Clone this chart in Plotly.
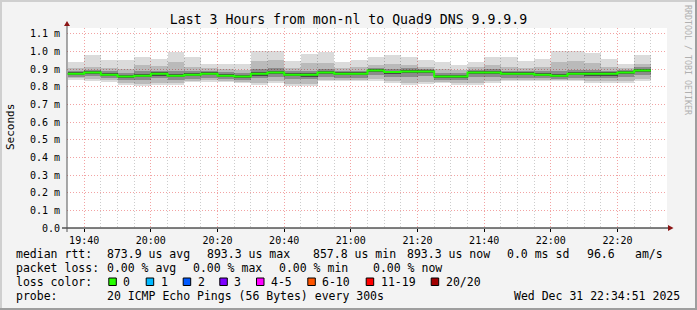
import pandas as pd
import plotly.graph_objects as go

# ---------------- data (values in milliseconds) ----------------
title = "Last 3 Hours from mon-nl to Quad9 DNS 9.9.9.9"
bar_starts = pd.date_range("2025-12-31 19:35:00", periods=35, freq="5min")

median = [0.874, 0.882, 0.869, 0.858, 0.863, 0.874, 0.863, 0.869, 0.874, 0.863,
          0.858, 0.874, 0.882, 0.869, 0.869, 0.882, 0.874, 0.874, 0.893, 0.884,
          0.887, 0.887, 0.859, 0.859, 0.882, 0.882, 0.874, 0.874, 0.869, 0.863,
          0.874, 0.874, 0.874, 0.882, 0.893]
ping_max = [0.942, 0.978, 0.954, 0.950, 0.972, 0.959, 0.997, 0.967, 0.931, 0.929,
            0.929, 1.001, 1.006, 0.948, 0.989, 0.997, 0.942, 0.954, 0.967, 0.978,
            0.972, 0.954, 0.938, 0.925, 0.938, 0.967, 0.967, 0.948, 0.959, 1.001,
            1.006, 0.991, 0.959, 0.931, 0.978]
ping_min = [0.840, 0.835, 0.827, 0.812, 0.806, 0.812, 0.812, 0.825, 0.827, 0.825,
            0.822, 0.812, 0.822, 0.806, 0.806, 0.831, 0.831, 0.831, 0.831, 0.822,
            0.812, 0.816, 0.822, 0.812, 0.812, 0.822, 0.831, 0.831, 0.831, 0.831,
            0.831, 0.822, 0.822, 0.822, 0.831]
hi2 = [0.905, 0.915, 0.905, 0.900, 0.925, 0.920, 0.940, 0.915, 0.905, 0.900,
       0.898, 0.945, 0.950, 0.905, 0.935, 0.935, 0.905, 0.910, 0.925, 0.930,
       0.925, 0.915, 0.900, 0.895, 0.910, 0.922, 0.915, 0.905, 0.910, 0.940,
       0.945, 0.935, 0.912, 0.905, 0.930]
lo2 = [0.848, 0.845, 0.836, 0.822, 0.818, 0.824, 0.822, 0.834, 0.836, 0.833,
       0.830, 0.824, 0.832, 0.818, 0.818, 0.840, 0.840, 0.840, 0.842, 0.832,
       0.824, 0.828, 0.830, 0.822, 0.824, 0.832, 0.840, 0.840, 0.840, 0.840,
       0.840, 0.832, 0.832, 0.832, 0.842]
hi3 = [0.890, 0.898, 0.888, 0.878, 0.888, 0.892, 0.890, 0.888, 0.890, 0.884,
       0.878, 0.900, 0.905, 0.888, 0.892, 0.902, 0.890, 0.892, 0.908, 0.902,
       0.905, 0.902, 0.878, 0.876, 0.898, 0.900, 0.892, 0.890, 0.888, 0.890,
       0.898, 0.895, 0.892, 0.895, 0.910]
lo3 = [0.856, 0.860, 0.848, 0.838, 0.838, 0.848, 0.838, 0.846, 0.852, 0.843,
       0.838, 0.848, 0.858, 0.842, 0.842, 0.858, 0.852, 0.852, 0.868, 0.858,
       0.858, 0.860, 0.840, 0.838, 0.856, 0.856, 0.852, 0.852, 0.848, 0.844,
       0.850, 0.848, 0.848, 0.856, 0.866]
hi4 = [0.882, 0.890, 0.878, 0.867, 0.874, 0.883, 0.874, 0.878, 0.882, 0.872,
       0.867, 0.884, 0.892, 0.878, 0.878, 0.891, 0.882, 0.883, 0.900, 0.892,
       0.895, 0.895, 0.868, 0.868, 0.890, 0.890, 0.882, 0.882, 0.877, 0.872,
       0.882, 0.882, 0.882, 0.890, 0.900]
lo4 = [0.866, 0.872, 0.860, 0.850, 0.853, 0.864, 0.853, 0.860, 0.866, 0.855,
       0.850, 0.864, 0.872, 0.860, 0.858, 0.872, 0.866, 0.865, 0.883, 0.874,
       0.876, 0.876, 0.850, 0.850, 0.872, 0.872, 0.865, 0.865, 0.860, 0.854,
       0.865, 0.864, 0.864, 0.872, 0.883]

y_tickvals = [0.0, 0.1, 0.2, 0.3, 0.4, 0.5, 0.6, 0.7, 0.8, 0.9, 1.0, 1.1]
y_ticktext = ["0.0", "0.1 m", "0.2 m", "0.3 m", "0.4 m", "0.5 m", "0.6 m",
              "0.7 m", "0.8 m", "0.9 m", "1.0 m", "1.1 m"]

loss_labels = ["0", "1", "2", "3", "4-5", "6-10", "11-19", "20/20"]
loss_colors = ["#26ff00", "#00b8ff", "#0059ff", "#7e00ff", "#ff00ff",
               "#ff5500", "#ff0000", "#a10000"]

# ---------------- geometry helpers (decoration placement) ----------------
W, H = 697, 310
L, R, T, B = 67, 30, 28, 82
PW, PH = W - L - R, H - T - B


def px(x):
    return (x - L) / PW


def py(y):
    return (H - B - y) / PH


MONO = "DejaVu Sans Mono"
fig = go.Figure()

centers = bar_starts + pd.Timedelta(minutes=2.5)
bar_w = 300000


def band(lo, hi, color):
    fig.add_trace(go.Bar(
        x=centers, base=lo, y=[h - l for h, l in zip(hi, lo)], width=bar_w,
        marker=dict(color=color, line=dict(width=0)), hoverinfo="skip",
        showlegend=False))


# semi-transparent layers so the grid shows through, as rrdtool draws grid on top
band(ping_min, ping_max, "rgba(0,0,0,0.14)")
band(lo2, hi2, "rgba(0,0,0,0.15)")
band(lo3, hi3, "rgba(0,0,0,0.25)")
band(lo4, hi4, "rgba(0,0,0,0.48)")

step_x = list(bar_starts) + [bar_starts[-1] + pd.Timedelta(minutes=5)]
step_y = median + [median[-1]]
fig.add_trace(go.Scatter(x=step_x, y=step_y, mode="lines", line_shape="hv",
                         line=dict(color="#22ff00", width=2), hoverinfo="skip",
                         showlegend=False))

fig.update_layout(
    width=W, height=H, margin=dict(l=L, r=R, t=T, b=B, pad=0),
    paper_bgcolor="#f3f3f3", plot_bgcolor="#ffffff",
    barmode="overlay", bargap=0, showlegend=False,
    font=dict(family=MONO, size=10, color="#000000"),
    title=dict(text=title, x=0.5, xref="container", xanchor="center",
               y=1 - 19 / H, yref="container", yanchor="middle",
               font=dict(family=MONO, size=13.2, color="#000000")),
)

fig.update_xaxes(
    type="date", range=["2025-12-31 19:34:51", "2025-12-31 22:34:51"],
    tick0="2025-12-31 19:40:00", dtick=20 * 60 * 1000, tickformat="%H:%M",
    showgrid=True, gridcolor="#f2a3a3", griddash="1px,2px", gridwidth=1,
    minor=dict(dtick=5 * 60 * 1000, showgrid=True, gridcolor="#cccccc",
               griddash="1px,2px", ticks=""),
    ticks="outside", ticklen=3, tickcolor="#000000", showline=False,
    zeroline=False, tickfont=dict(family=MONO, size=10, color="#000000"),
    fixedrange=True,
)
fig.update_yaxes(
    range=[0, 1.1335], tickvals=y_tickvals, ticktext=y_ticktext,
    showgrid=True, gridcolor="#f2a3a3", griddash="1px,2px", gridwidth=1,
    ticks="", ticklabelstandoff=6, showline=False, zeroline=False,
    tickfont=dict(family=MONO, size=10, color="#000000"), fixedrange=True,
)

shapes = []
# axis lines
shapes.append(dict(type="line", xref="paper", yref="paper",
                   x0=px(62), x1=px(669), y0=py(228), y1=py(228),
                   line=dict(color="#000000", width=1)))
shapes.append(dict(type="line", xref="paper", yref="paper",
                   x0=px(67), x1=px(67), y0=py(232), y1=py(25),
                   line=dict(color="#555555", width=1)))
# arrows
shapes.append(dict(type="path", xref="paper", yref="paper",
                   path=f"M {px(64)} {py(26)} L {px(70)} {py(26)} L {px(67)} {py(21)} Z",
                   fillcolor="#8b1515", line=dict(width=0)))
shapes.append(dict(type="path", xref="paper", yref="paper",
                   path=f"M {px(668)} {py(225)} L {px(668)} {py(231)} L {px(673.5)} {py(228)} Z",
                   fillcolor="#8b1515", line=dict(width=0)))
# frame
shapes.append(dict(type="rect", xref="paper", yref="paper",
                   x0=px(0), x1=px(W), y0=py(0), y1=py(2),
                   fillcolor="#cfcfcf", line=dict(width=0)))
shapes.append(dict(type="rect", xref="paper", yref="paper",
                   x0=px(0), x1=px(2), y0=py(0), y1=py(H),
                   fillcolor="#cfcfcf", line=dict(width=0)))
shapes.append(dict(type="rect", xref="paper", yref="paper",
                   x0=px(W - 2), x1=px(W), y0=py(0), y1=py(H),
                   fillcolor="#9e9e9e", line=dict(width=0)))
shapes.append(dict(type="rect", xref="paper", yref="paper",
                   x0=px(0), x1=px(W), y0=py(H - 2), y1=py(H),
                   fillcolor="#9e9e9e", line=dict(width=0)))

annotations = []


def text(x, y, s, anchor="left", size=11.5, color="#000000", angle=0):
    annotations.append(dict(text=s, x=px(x), y=py(y), xref="paper", yref="paper",
                            xanchor=anchor, yanchor="middle", showarrow=False,
                            textangle=angle, borderpad=0,
                            font=dict(family=MONO, size=size, color=color)))


text(10, 127, "Seconds", anchor="center", size=11, angle=-90)
text(688, 60, "RRDTOOL / TOBI OETIKER", anchor="center", size=8.3,
     color="#b0b0b0", angle=90)

# legend lines
y1, y2, y3, y4 = 254, 268, 282, 296
text(15, y1, "median rtt:")
text(106.3, y1, "873.9 us avg")
text(206, y1, "893.3 us max")
text(311.7, y1, "857.8 us min")
text(405.7, y1, "893.3 us now")
text(505.7, y1, "0.0 ms sd")
text(585.7, y1, "96.6")
text(634, y1, "am/s")

text(15, y2, "packet loss:")
text(106.3, y2, "0.00 % avg")
text(192.3, y2, "0.00 % max")
text(278.3, y2, "0.00 % min")
text(372.3, y2, "0.00 % now")

text(15, y3, "loss color:")
box_x = [108.3, 145.7, 182.7, 219.3, 256.0, 307.3, 365.7, 430.7]
for bx, lab, col in zip(box_x, loss_labels, loss_colors):
    shapes.append(dict(type="rect", xref="paper", yref="paper",
                       x0=px(bx + 0.5), x1=px(bx + 8), y0=py(278), y1=py(285.5),
                       fillcolor=col, line=dict(color="#000000", width=1)))
    text(bx + 14, y3, lab)

text(15, y4, "probe:")
text(106.3, y4, "20 ICMP Echo Pings (56 Bytes) every 300s")
text(681, y4, "Wed Dec 31 22:34:51 2025", anchor="right")

fig.update_layout(shapes=shapes, annotations=annotations)
fig.write_html("out.html")
